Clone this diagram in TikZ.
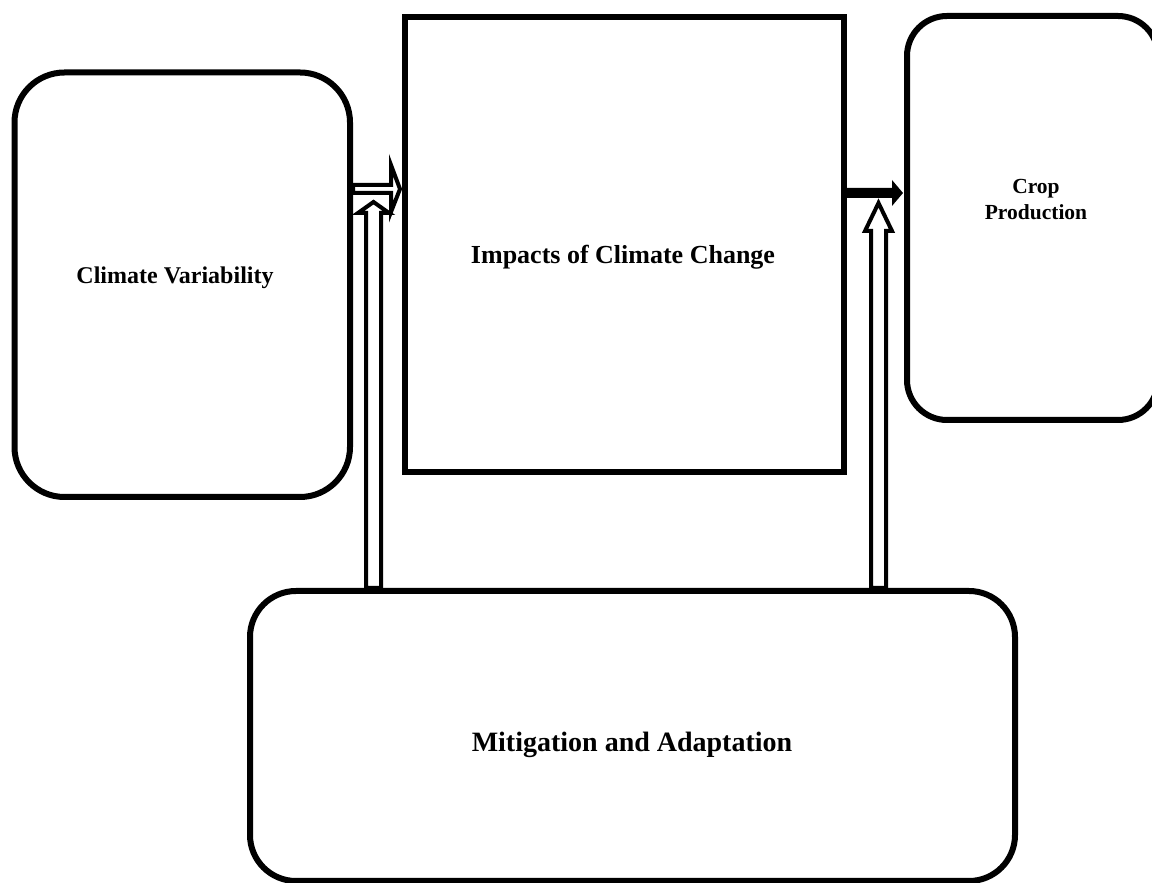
\documentclass[tikz,border=0pt]{standalone}
\usepackage{fontspec}
\setmainfont{Liberation Serif}
\begin{document}
\begin{tikzpicture}[x=1pt,y=1pt,
  box/.style={draw=black, line width=6pt, fill=white, inner sep=0pt},
  rbox/.style={box, rounded corners=#1},
  lbl/.style={font=\fontsize{#1}{26}\selectfont\bfseries, align=center, inner sep=0pt},
  hollow/.style={draw=black, line width=4pt, fill=white, line join=miter, miter limit=10},
  solid/.style={fill=black, draw=none}]
\useasboundingbox (0,0) rectangle (1152,883);
% boxes
\node[rbox=50pt, minimum width=335.5pt, minimum height=424.5pt] (cv) at (182.25,598.25) {};
\node[box, minimum width=439pt, minimum height=455pt] (imp) at (624.5,638.5) {};
\node[rbox=40pt, minimum width=251pt, minimum height=404pt] (crop) at (1032.5,665) {};
\node[rbox=46pt, minimum width=765pt, minimum height=290pt] (mit) at (632.5,147) {};
% labels
\node[lbl=24] (cvl) at (175,605) {Climate Variability};
\node[lbl=26] (impl) at (623,626) {Impacts of Climate Change};
\node[lbl=28] (cropl) at (1036,683) {\fontsize{21.5}{26}\selectfont Crop\\\fontsize{21.5}{26}\selectfont Production};
\node[lbl=28] (mitl) at (632,138) {Mitigation and Adaptation};
% hollow arrow CV -> Impacts
\draw[hollow] (cv.east |- 0,698) -- (391,698) -- (391,718) -- (400,694)
  -- (391,671) -- (391,690) -- (cv.east |- 0,690) -- cycle;
% hollow arrow Mitigation -> (CV/Impacts)
\draw[hollow] (366,0 |- mit.north) -- (366,670) -- (358,670) -- (373.5,681)
  -- (389,670) -- (381,670) -- (381,0 |- mit.north) -- cycle;
% solid arrow Impacts -> Crop
\fill[solid] (imp.east |- 0,695) -- (892,695) -- (892,703) -- (903,690)
  -- (892,677) -- (892,685) -- (imp.east |- 0,685) -- cycle;
% hollow arrow Mitigation -> (Impacts/Crop)
\draw[hollow] (871,0 |- mit.north) -- (871,652) -- (865,652) -- (878.5,680)
  -- (892,652) -- (886,652) -- (886,0 |- mit.north) -- cycle;
% redraw mitigation top edge over arrow bottoms
\draw[line width=6pt] (300,883-591) -- (960,883-591);
\end{tikzpicture}
\end{document}
